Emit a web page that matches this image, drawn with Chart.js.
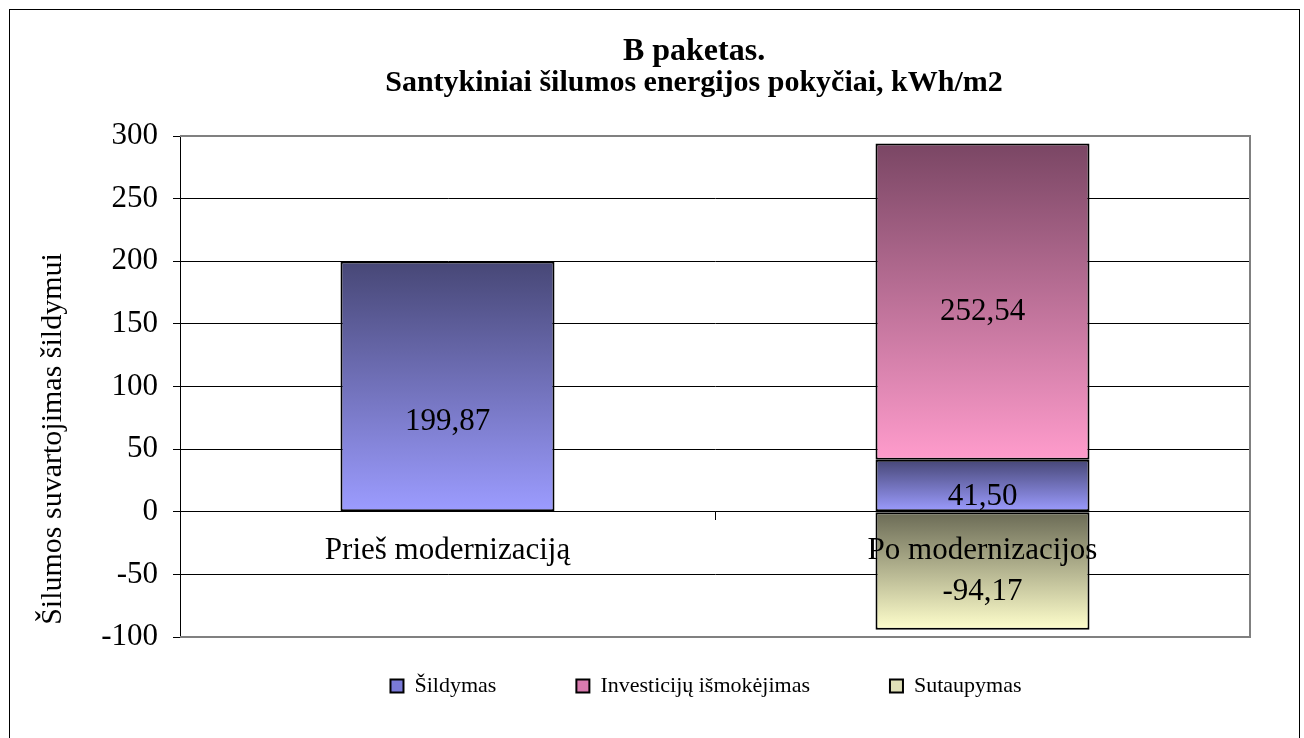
<!DOCTYPE html>
<html>
<head>
<meta charset="utf-8">
<script src="https://cdn.jsdelivr.net/npm/chart.js@4.4.1/dist/chart.umd.min.js"></script>
<style>
  html, body { margin: 0; padding: 0; background: #fff; }
  #wrap { width: 1304px; height: 738px; position: relative; }
</style>
</head>
<body>
<div id="wrap"><canvas id="myChart" width="1304" height="738"></canvas></div>
<script>
let categories = ['Prieš modernizaciją', 'Po modernizacijos'],
sildymas = [199.87, 41.50],
investicijos = [null, 252.54],
sutaupymas = [null, -94.17],
yTicks = [-100, -50, 0, 50, 100, 150, 200, 250, 300]

const serif = "'Liberation Serif', 'Times New Roman', serif"

// vertical gradient over each bar, dark on top, light below
function gradient(top, bottom) {
    return (ctx) => {
        const chart = ctx.chart
        const ys = chart.scales.y
        if (!ys || !chart.chartArea || ctx.type !== 'data' || ctx.raw == null) return bottom
        const v = ctx.raw
        let base = 0
        for (let d = 0; d < ctx.datasetIndex; d++) {
            const w = chart.data.datasets[d].data[ctx.dataIndex]
            if (w != null && Math.sign(w) === Math.sign(v)) base += w
        }
        const p1 = ys.getPixelForValue(base), p2 = ys.getPixelForValue(base + v)
        const g = chart.ctx.createLinearGradient(0, Math.min(p1, p2), 0, Math.max(p1, p2))
        g.addColorStop(0, top)
        g.addColorStop(1, bottom)
        return g
    }
}

const legendFill = ['#7a7ad8', '#d87aae', '#e0e0b8']

const frame = {
    id: 'frame',
    afterLayout(chart) {
        // legend row sits lower and more to the right than Chart.js puts it
        const L = chart.legend
        const dy = 686 - (L.top + L.options.labels.padding + 11)
        L.top += dy
        L.bottom = L.top + 130
        L.left += 76
        L.right += 76
        // titles are centred a bit right of the canvas middle
        chart.boxes.forEach(b => {
            if (b !== L && b.options && typeof b.options.text === 'string') {
                b.left += 64
                b.right += 64
            }
        })
    },
    beforeDraw(chart) {
        const c = chart.ctx
        c.save()
        c.strokeStyle = '#000'
        c.lineWidth = 1
        c.strokeRect(9.5, 9.5, 1290, 760)
        c.restore()
    },
    afterDraw(chart) {
        const a = chart.chartArea, c = chart.ctx
        c.save()
        c.strokeStyle = '#808080'
        c.lineWidth = 2
        c.beginPath()
        c.moveTo(a.left, a.top)
        c.lineTo(a.right, a.top)
        c.lineTo(a.right, a.bottom)
        c.lineTo(a.left, a.bottom)
        c.stroke()
        c.restore()
    }
}

// Excel put the value labels a bit below the middle of each segment
const labelShift = [[36, 11], [0, 10], [0, 21]]

const valueLabels = {
    id: 'valueLabels',
    afterDatasetsDraw(chart) {
        const c = chart.ctx
        c.save()
        c.font = '31px ' + serif
        c.fillStyle = '#000'
        c.textAlign = 'center'
        c.textBaseline = 'middle'
        chart.data.datasets.forEach((ds, i) => {
            chart.getDatasetMeta(i).data.forEach((el, j) => {
                const v = ds.data[j]
                if (v == null) return
                const y = (el.y + el.base) / 2 + labelShift[i][j]
                c.fillText(v.toFixed(2).replace('.', ','), el.x, y)
            })
        })
        c.restore()
    }
}

const ctx = document.getElementById('myChart').getContext('2d')
const myChart = new Chart(ctx, {
    type: 'bar',
    data: {
        labels: categories,
        datasets: [
            { label: 'Šildymas', data: sildymas, backgroundColor: gradient('#474776', '#9c9cff') },
            { label: 'Investicijų išmokėjimas', data: investicijos, backgroundColor: gradient('#7a4664', '#ff9ccc') },
            { label: 'Sutaupymas', data: sutaupymas, backgroundColor: gradient('#6a6a55', '#ffffcc') }
        ]
    },
    options: {
        responsive: false,
        animation: false,
        layout: { padding: { left: 10, right: 54, top: 10, bottom: 41 } },
        datasets: {
            bar: { barPercentage: 0.4, categoryPercentage: 1, borderColor: '#000', borderWidth: 2, borderSkipped: false }
        },
        scales: {
            x: {
                stacked: true,
                position: { y: 0 },
                afterFit(scale) { scale.height = 0 },
                grid: { drawOnChartArea: false, drawTicks: true, tickLength: 8, color: '#000', offset: true, z: 1 },
                border: { display: true, color: '#000', width: 1, z: 1 },
                ticks: { color: '#000', font: { family: serif, size: 31 }, padding: 13, z: 1 }
            },
            y: {
                stacked: true,
                min: -100,
                max: 300,
                afterBuildTicks(scale) { scale.ticks = yTicks.map(v => ({ value: v })) },
                afterFit(scale) { scale.width = 170 },
                grid: { color: '#000', lineWidth: 1, tickLength: 7 },
                border: { display: true, color: '#000', width: 1 },
                ticks: { color: '#000', font: { family: serif, size: 31 }, padding: 15 },
                title: {
                    display: true,
                    // trailing spaces push the visible text down, as in the original
                    text: 'Šilumos suvartojimas šildymui              ',
                    color: '#000',
                    font: { family: serif, size: 30 },
                    padding: { top: 25, bottom: 0 }
                }
            }
        },
        plugins: {
            title: { display: true, text: 'B paketas.', color: '#000', font: { family: serif, size: 32, weight: 'bold', lineHeight: 1 }, padding: { top: 26, bottom: 0 } },
            subtitle: { display: true, text: 'Santykiniai šilumos energijos pokyčiai, kWh/m2', color: '#000', font: { family: serif, size: 30, weight: 'bold', lineHeight: 1 }, padding: { top: 0, bottom: 38 } },
            legend: {
                position: 'bottom',
                maxHeight: 60,
                labels: {
                    color: '#000',
                    font: { family: serif, size: 22 },
                    boxWidth: 13,
                    boxHeight: 13,
                    padding: 80,
                    generateLabels(chart) {
                        return chart.data.datasets.map((ds, i) => ({
                            text: ds.label,
                            fillStyle: legendFill[i],
                            strokeStyle: '#000',
                            lineWidth: 2,
                            datasetIndex: i,
                            fontColor: '#000'
                        }))
                    }
                }
            },
            tooltip: { enabled: false }
        }
    },
    plugins: [frame, valueLabels]
})
</script>
</body>
</html>
